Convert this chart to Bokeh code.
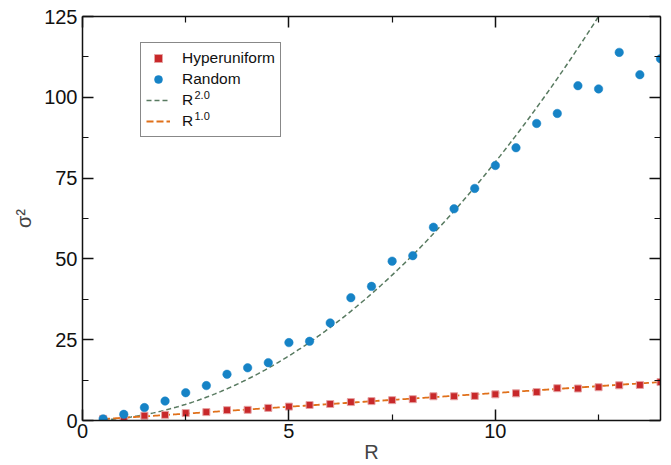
import numpy as np
from bokeh.plotting import figure
from bokeh.models import (Range1d, LinearAxis, FixedTicker, Legend, LegendItem,
                          Label, CustomJSTickFormatter, ColumnDataSource)
from bokeh.embed import file_html
from bokeh.resources import INLINE

# ---- data ----
R = [0.5, 1.0, 1.5, 2.0, 2.5, 3.0, 3.5, 4.0, 4.5, 5.0, 5.5, 6.0, 6.5, 7.0,
     7.5, 8.0, 8.5, 9.0, 9.5, 10.0, 10.5, 11.0, 11.5, 12.0, 12.5, 13.0, 13.5, 14.0]
hyperuniform = [0.5, 0.7, 1.5, 1.75, 2.3, 2.6, 3.2, 3.3, 3.9, 4.3, 4.8, 5.1, 5.7, 6.0,
                6.3, 6.6, 7.5, 7.5, 7.6, 8.1, 8.4, 8.8, 10.0, 9.9, 10.3, 10.9, 11.0, 11.9]
random_pts = [0.5, 1.9, 4.0, 6.0, 8.6, 10.8, 14.3, 16.3, 17.9, 24.1, 24.5, 30.2, 38.0, 41.5,
              49.3, 51.0, 59.8, 65.5, 71.8, 78.9, 84.4, 91.9, 95.0, 103.6, 102.6, 113.9, 107.0, 111.9]
# power-law fits: sigma^2 = a * R^n
fit2_coef, fit2_exp = 0.80, 2.0
fit1_coef, fit1_exp = 0.85, 1.0
x_ticks = [0, 5, 10]
x_minor = [2.5, 7.5, 12.5]
y_ticks = [0, 25, 50, 75, 100, 125]
y_minor = [12.5, 37.5, 62.5, 87.5, 112.5]

FONT = "Liberation Sans"
X0, X1, Y0, Y1 = 0, 14, 0, 125
FRAME_W, FRAME_H = 578, 404

p = figure(width=671, height=465, output_backend="svg", toolbar_location=None,
           x_range=Range1d(X0, X1), y_range=Range1d(Y0, Y1),
           min_border_left=82, min_border_right=11, min_border_top=16, min_border_bottom=45)
p.background_fill_color = "white"
p.border_fill_color = "white"
p.outline_line_color = None
p.xgrid.visible = False
p.ygrid.visible = False

def style_axis(ax, ticks, minor, show_labels):
    ax.ticker = FixedTicker(ticks=ticks, minor_ticks=minor)
    ax.axis_line_color = "#111111"
    ax.axis_line_width = 1.5
    ax.major_tick_line_color = "#111111"
    ax.major_tick_line_width = 1.5
    ax.minor_tick_line_color = "#111111"
    ax.minor_tick_line_width = 1.2
    ax.major_tick_in = 11
    ax.major_tick_out = 0
    ax.minor_tick_in = 6
    ax.minor_tick_out = 0
    if show_labels:
        ax.major_label_text_font = FONT
        ax.major_label_text_font_size = "20px"
        ax.major_label_text_color = "#111111"
    else:
        ax.formatter = CustomJSTickFormatter(code="return ''")
        ax.major_label_text_font_size = "1px"
        ax.major_label_standoff = 0

xa = p.xaxis[0]
style_axis(xa, x_ticks, x_minor, True)
xa.major_label_standoff = 3
xa.axis_label = "R"
xa.axis_label_text_font = FONT
xa.axis_label_text_font_size = "20px"
xa.axis_label_text_font_style = "normal"
xa.axis_label_standoff = 0

ya = p.yaxis[0]
style_axis(ya, y_ticks, y_minor, True)
ya.major_label_standoff = 5
ya.axis_label = "σ²"
ya.axis_label_text_font = FONT
ya.axis_label_text_font_size = "20px"
ya.axis_label_text_font_style = "normal"
ya.axis_label_standoff = 6

top = LinearAxis()
style_axis(top, x_ticks, x_minor, False)
p.add_layout(top, "above")
right = LinearAxis()
style_axis(right, y_ticks, y_minor, False)
p.add_layout(right, "right")

# fit lines
rf = np.linspace(R[0], R[-1], 300)
l2 = p.line(rf, fit2_coef * rf ** fit2_exp, line_color="#587a60", line_width=1.5, line_dash="5 3")
l1 = p.line(rf, fit1_coef * rf ** fit1_exp, line_color="#e0701a", line_width=1.8, line_dash="7 3")

src = ColumnDataSource(dict(R=R, hyper=hyperuniform, rand=random_pts))
sq = p.scatter("R", "hyper", source=src, marker="square", size=7,
               fill_color="#c8282a", line_color="#e6a3a3", line_width=1)
ci = p.scatter("R", "rand", source=src, marker="circle", size=8.5,
               fill_color="#1683c6", line_color="#1683c6", line_width=0.5)

legend = Legend(items=[
    LegendItem(label="Hyperuniform", renderers=[sq]),
    LegendItem(label="Random", renderers=[ci]),
    LegendItem(label="R", renderers=[l2]),
    LegendItem(label="R", renderers=[l1]),
], location=(58, 283))
legend.margin = 0
legend.padding = 5
legend.spacing = 1
legend.glyph_width = 24
legend.glyph_height = 20
legend.label_height = 20
legend.label_standoff = 12
legend.label_text_font = FONT
legend.label_text_font_size = "15.5px"
legend.label_text_color = "#111111"
legend.border_line_color = "#111111"
legend.border_line_width = 1
legend.background_fill_alpha = 0.0
p.add_layout(legend)

# superscripts of the legend labels (pixel offsets inside the frame -> data coords)
for txt, px, py in (("2.0", 112, 326), ("1.0", 112, 305)):
    p.add_layout(Label(x=X0 + (X1 - X0) * px / FRAME_W, y=Y0 + (Y1 - Y0) * py / FRAME_H,
                       text=txt, text_font=FONT, text_font_size="11px", text_color="#111111",
                       text_baseline="middle", text_align="left"))

open("out.html", "w").write(file_html(p, INLINE))
